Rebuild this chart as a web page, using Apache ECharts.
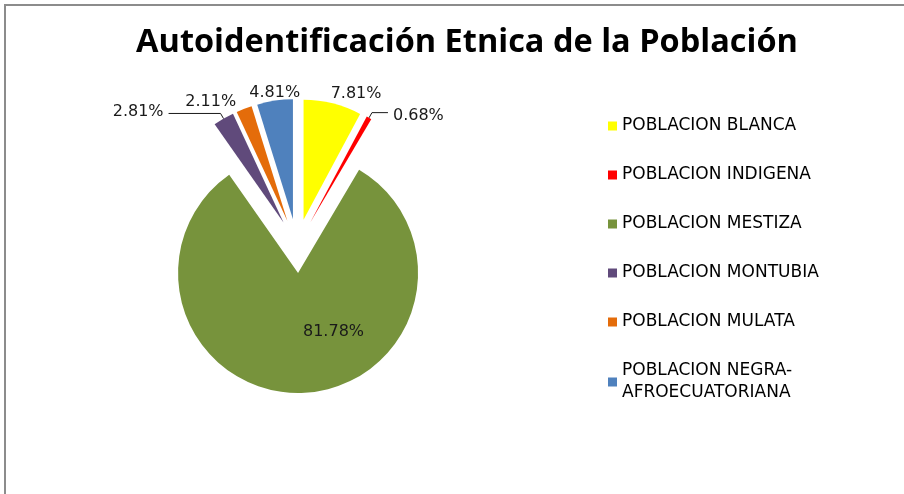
<!DOCTYPE html>
<html>
<head>
<meta charset="utf-8">
<script src="https://cdn.jsdelivr.net/npm/echarts@6/dist/echarts.min.js"></script>
<style>
html,body{margin:0;padding:0;background:#fff;}
#chart{width:904px;height:494px;}
</style>
</head>
<body>
<div id="chart"></div>
<script>
// Data
const categories = ["POBLACION BLANCA","POBLACION INDIGENA","POBLACION MESTIZA","POBLACION MONTUBIA","POBLACION MULATA","POBLACION NEGRA-AFROECUATORIANA"];
const values = [7.81, 0.68, 81.78, 2.81, 2.11, 4.81];
const colors = ["#FFFF00","#FF0000","#77933C","#604A7B","#E46C0A","#4F81BD"];
const titleText = "Autoidentificación Etnica de la Población";

// per-slice label settings (styling only)
const labelCfg = [
  {position:'outside', line:false, length:8, length2:0, dx:-9, dy:-2, align:null},
  {position:'outside', line:true, length:6, length2:16, dx:0, dy:3, align:null},
  {position:'inside', line:false, length:0, length2:0, dx:33, dy:-4, align:null},
  {position:'outside', line:true, length:6, length2:52, dx:0, dy:-2, align:null},
  {position:'outside', line:false, length:8, length2:0, dx:0, dy:0, align:null},
  {position:'outside', line:false, length:8, length2:0, dx:6, dy:0, align:'center'}
];

const TFONT = "'Open Sans', sans-serif";
const FONT = "'DejaVu Sans', sans-serif";
const data = categories.map((name, i) => ({
  name: name,
  value: values[i],
  selected: true,
  itemStyle: {color: colors[i]},
  label: {position: labelCfg[i].position},
  labelLine: {show: labelCfg[i].line, length: labelCfg[i].length, length2: labelCfg[i].length2}
}));

const chart = echarts.init(document.getElementById('chart'), null, {renderer: 'canvas'});
chart.setOption({
  animation: false,
  backgroundColor: '#fff',
  title: {
    text: titleText,
    left: 462, top: 21, textAlign: 'center',
    textStyle: {fontFamily: TFONT, fontSize: 32.5, fontWeight: 'bold', color: '#000'}
  },
  graphic: [{
    type: 'polyline',
    shape: {points: [[5, 500], [5, 5], [910, 5]]},
    style: {stroke: '#8c8c8c', lineWidth: 2, fill: null},
    silent: true
  }],
  legend: {
    orient: 'vertical',
    left: 603, top: 110,
    itemWidth: 9, itemHeight: 9, itemGap: 27,
    icon: 'rect',
    textStyle: {fontFamily: FONT, fontSize: 17, color: '#000', lineHeight: 22},
    formatter: function (name) { return name.replace('NEGRA-', 'NEGRA-\n'); },
    selectedMode: false
  },
  series: [{
    type: 'pie',
    center: [297, 246],
    radius: 120,
    startAngle: 90,
    clockwise: true,
    selectedMode: 'multiple',
    selectedOffset: 27,
    avoidLabelOverlap: false,
    label: {
      formatter: function (p) { return p.value.toFixed(2) + '%'; },
      fontFamily: FONT, fontSize: 16, color: '#1a1a1a'
    },
    labelLine: {lineStyle: {color: '#1a1a1a', width: 1}, smooth: false},
    labelLayout: function (params) {
      const c = labelCfg[params.dataIndex];
      const r = {dx: c.dx, dy: c.dy, hideOverlap: false};
      if (c.align) r.align = c.align;
      return r;
    },
    emphasis: {disabled: true},
    data: data
  }]
});
</script>
</body>
</html>
